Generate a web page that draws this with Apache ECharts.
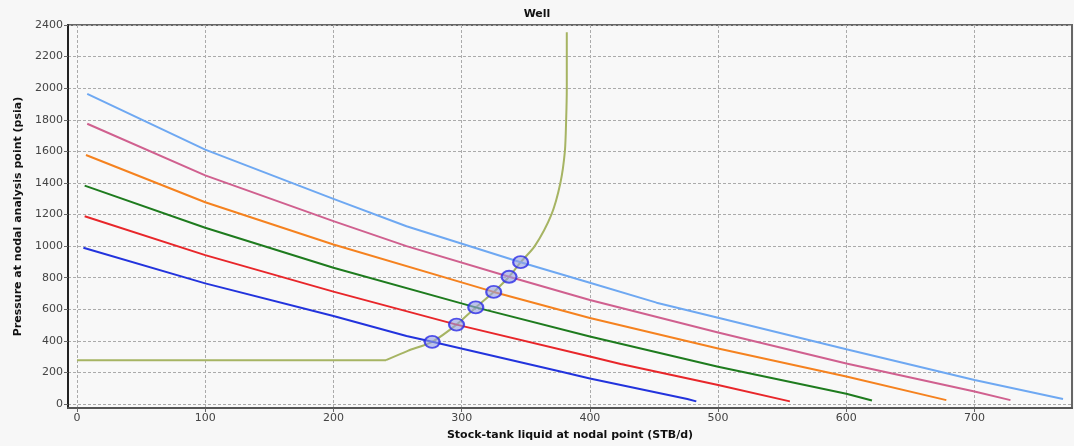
<!DOCTYPE html>
<html>
<head>
<meta charset="utf-8">
<script src="https://cdn.jsdelivr.net/npm/echarts@6/dist/echarts.min.js"></script>
<style>
html,body{margin:0;padding:0;background:#f7f7f7;}
#chart{width:1074px;height:446px;}
</style>
</head>
<body>
<div id="chart"></div>
<script>
// ---- data ----
var title = 'Well';
var xName = 'Stock-tank liquid at nodal point (STB/d)';
var yName = 'Pressure at nodal analysis point (psia)';
var xTicks = [0, 100, 200, 300, 400, 500, 600, 700];
var yTicks = [0, 200, 400, 600, 800, 1000, 1200, 1400, 1600, 1800, 2000, 2200, 2400];

var ipr1000 = [[5,990],[100,764],[200,558],[257,431],[277,394],[377,206],[400,162],[476,32],[483,17]];
var ipr1200 = [[6,1189],[100,943],[200,712],[296,503],[400,301],[424,253],[500,120],[556,17]];
var ipr1400 = [[6,1383],[100,1116],[200,863],[311,612],[400,428],[500,236],[600,65],[620,23]];
var ipr1600 = [[7,1577],[100,1278],[200,1010],[325,710],[400,545],[500,352],[600,175],[678,25]];
var ipr1800 = [[8,1775],[100,1448],[200,1158],[257,1000],[337,806],[400,659],[500,453],[600,257],[700,80],[728,25]];
var ipr2000 = [[8,1964],[100,1611],[200,1299],[257,1126],[346,898],[400,768],[452,642],[500,547],[600,347],[700,152],[769,32]];
var vlpFlat = [[0,278],[241,278]];
var vlpRise = [[241,278],[258,337],[277,394],[296,503],[311,612],[325,710],[337,806],[346,898],[357,1000],[370,1200],[377,1400],[380.5,1600],[381.5,1800],[382,2000],[382,2200],[382,2354]];
var opPoints = [[277,394],[296,503],[311,612],[325,710],[337,806],[346,898]];

var iprSets = [ipr1000, ipr1200, ipr1400, ipr1600, ipr1800, ipr2000];
var iprColors = ['#2233dd', '#e8262a', '#1e7b1e', '#f5821f', '#d0608f', '#6ea8f2'];

var chart = echarts.init(document.getElementById('chart'), null, {renderer: 'canvas'});
var FONT = 'DejaVu Sans';

var series = [];
iprSets.forEach(function (d, i) {
  series.push({
    type: 'line', data: d, showSymbol: false, smooth: false,
    lineStyle: {color: iprColors[i], width: 2}, z: 3, silent: true
  });
});
series.push({
  type: 'line', data: vlpFlat, showSymbol: false,
  lineStyle: {color: '#a6b463', width: 2}, z: 2, silent: true
});
series.push({
  type: 'line', data: vlpRise, showSymbol: false, smooth: 0.25,
  lineStyle: {color: '#a6b463', width: 2}, z: 2, silent: true
});
series.push({
  type: 'scatter', data: opPoints, symbol: 'circle', symbolSize: [15, 12],
  itemStyle: {color: 'rgba(150,160,225,0.75)', borderColor: '#2a2ae6', borderWidth: 2},
  z: 5, silent: true
});

function plain(v) { return String(v); }

chart.setOption({
  animation: false,
  backgroundColor: '#f7f7f7',
  title: {
    text: title, left: 'center', top: 4,
    textStyle: {fontFamily: FONT, fontSize: 11, fontWeight: 'bold', color: '#111'}
  },
  grid: {
    left: 68, right: 2, top: 25, bottom: 37,
    show: true, borderColor: '#666', borderWidth: 2, backgroundColor: '#f8f8f8'
  },
  xAxis: {
    type: 'value', min: -7, max: 776,
    name: xName, nameLocation: 'middle', nameGap: 22,
    nameTextStyle: {fontFamily: FONT, fontSize: 11, fontWeight: 'bold', color: '#111'},
    axisLine: {show: true, onZero: false, lineStyle: {color: '#555', width: 2}},
    axisTick: {show: true, length: 4, lineStyle: {color: '#666'}, customValues: xTicks},
    axisLabel: {fontFamily: FONT, fontSize: 11, color: '#444', margin: 5, customValues: xTicks, formatter: plain},
    splitLine: {show: true, lineStyle: {color: '#ababab', type: [3, 2], width: 1}}
  },
  yAxis: {
    type: 'value', min: -25, max: 2400,
    name: yName, nameLocation: 'middle', nameGap: 44,
    nameTextStyle: {fontFamily: FONT, fontSize: 11, fontWeight: 'bold', color: '#111'},
    axisLine: {show: true, onZero: false, lineStyle: {color: '#222', width: 2}},
    axisTick: {show: true, length: 4, lineStyle: {color: '#666'}, customValues: yTicks},
    axisLabel: {fontFamily: FONT, fontSize: 11, color: '#444', margin: 5, customValues: yTicks, formatter: plain},
    splitLine: {show: true, lineStyle: {color: '#ababab', type: [3, 2], width: 1}}
  },
  series: series
});
</script>
</body>
</html>
